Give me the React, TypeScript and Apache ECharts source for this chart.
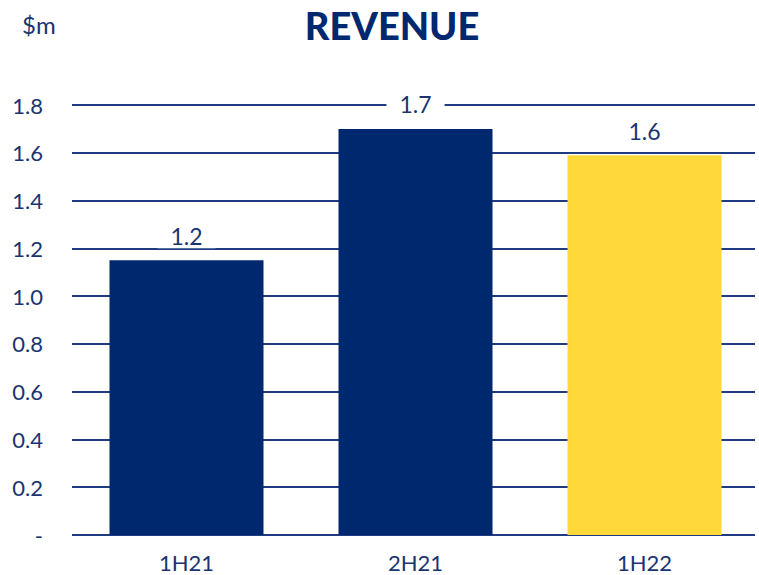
import React, { useEffect, useRef } from "react";
import * as echarts from "echarts";

const categories = ["1H21", "2H21", "1H22"];
const revenue = [1.15, 1.7, 1.59];
const labels = ["1.2", "1.7", "1.6"];
const barColors = ["#00286E", "#00286E", "#FFD83A"];

const NAVY = "#00286E";
const TEXT = "#1A3472";
const FONT = "Lato, 'Open Sans', sans-serif";

export default function App() {
  const ref = useRef<HTMLDivElement>(null);
  useEffect(() => {
    if (!ref.current) return;
    const chart = echarts.init(ref.current, null, { renderer: "svg" });
    chart.setOption({
      animation: false,
      backgroundColor: "#fff",
      title: [
        {
          text: "REVENUE",
          left: 387,
          textAlign: "center",
          top: 1,
          textStyle: { fontFamily: FONT, fontWeight: 900, fontSize: 38, color: NAVY },
        },
        {
          text: "$m",
          left: 17,
          top: 7,
          textStyle: { fontFamily: FONT, fontWeight: "normal", fontSize: 24, color: TEXT },
        },
      ],
      grid: { left: 72, right: -4, top: 105, bottom: 40, containLabel: false },
      xAxis: {
        type: "category",
        data: categories,
        axisLine: { show: false },
        axisTick: { show: false },
        axisLabel: { fontFamily: FONT, fontSize: 22, color: TEXT, margin: 16 },
      },
      yAxis: {
        type: "value",
        min: 0,
        max: 1.8,
        interval: 0.2,
        axisLine: { show: false },
        axisTick: { show: false },
        splitLine: { lineStyle: { color: "#1F3C82", width: 2 } },
        axisLabel: {
          fontFamily: FONT,
          fontSize: 22,
          color: TEXT,
          margin: 29,
          formatter: (v: number) => (v === 0 ? "-" : v.toFixed(1)),
        },
      },
      graphic: [
        { type: "rect", right: 0, top: 90, z: 100, shape: { width: 4, height: 460 }, style: { fill: "#fff" } },
      ],
      series: [
        {
          type: "bar",
          barWidth: 154,
          data: revenue.map((v, i) => ({ value: v, itemStyle: { color: barColors[i] } })),
          label: {
            show: true,
            position: "top",
            distance: 12,
            fontFamily: FONT,
            fontSize: 23,
            color: TEXT,
            backgroundColor: "#fff",
            padding: [1, 13],
            formatter: (p: any) => labels[p.dataIndex],
          },
        },
      ],
    });
    return () => chart.dispose();
  }, []);
  return <div ref={ref} style={{ width: 759, height: 575, position: "absolute", left: 0, top: 0 }} />;
}
